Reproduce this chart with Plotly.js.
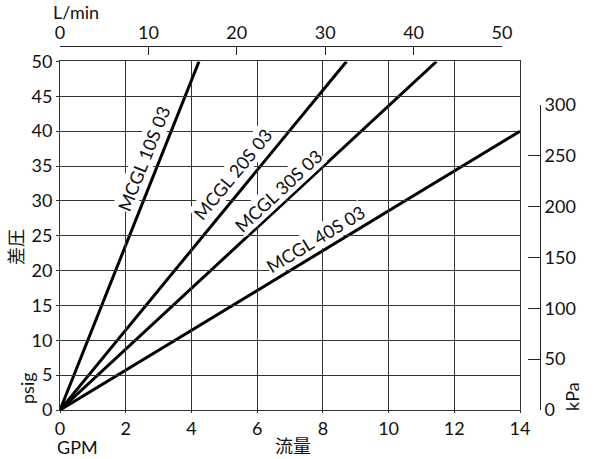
<!DOCTYPE html>
<html><head><meta charset="utf-8">
<script src="https://cdn.plot.ly/plotly-3.0.1.min.js"></script>
<style>html,body{margin:0;padding:0;background:#fff}</style>
</head><body><div id="chart" style="width:600px;height:459px"></div>
<script>
// ---- data ----
const models = ['MCGL 10S 03', 'MCGL 20S 03', 'MCGL 30S 03', 'MCGL 40S 03'];
const flowGPM = [[0, 4.23], [0, 8.72], [0, 11.46], [0, 14]];
const dpPsig = [[0, 50], [0, 50], [0, 50], [0, 40]];
const gpmTicks = [0, 2, 4, 6, 8, 10, 12, 14];
const psigTicks = [0, 5, 10, 15, 20, 25, 30, 35, 40, 45, 50];
const lpmTicks = [0, 10, 20, 30, 40, 50];
const kpaTicks = [0, 50, 100, 150, 200, 250, 300];

// ---- label placement (layout, not data) ----
const labelPos = [[2.62, 35.9], [5.33, 33.6], [6.70, 31.1], [7.82, 24.2]];
const labelGap = 3; // extra px away from the line

const W = 600, H = 459;
const M = {l: 60, r: 40, t: 40, b: 49};
const plotW = W - M.l - M.r, plotH = H - M.t - M.b;
const xDomTop = 0.92, yDomTop = 0.942;
const pxPerX = plotW * xDomTop / 14, pxPerY = plotH * yDomTop / 50;
const px = x => (x - M.l) / plotW;
const py = y => (H - M.b - y) / plotH;

const FONT = "Lato, 'Noto Sans CJK JP', sans-serif";
const traces = models.map((m, i) => ({
  x: flowGPM[i], y: dpPsig[i], type: 'scatter', mode: 'lines',
  line: {color: '#000', width: 3}, name: m, hoverinfo: 'skip', showlegend: false
}));
traces.push({x: [], y: [], xaxis: 'x2', yaxis: 'y', type: 'scatter', mode: 'markers', showlegend: false, hoverinfo: 'skip'});
traces.push({x: [], y: [], xaxis: 'x', yaxis: 'y2', type: 'scatter', mode: 'markers', showlegend: false, hoverinfo: 'skip'});

const tf = {family: FONT, size: 18, color: '#111'};
const annotations = models.map((m, i) => {
  const slope = (dpPsig[i][1] - dpPsig[i][0]) / (flowGPM[i][1] - flowGPM[i][0]);
  const th = Math.atan(slope * pxPerY / pxPerX);
  const ang = th * 180 / Math.PI;
  const ax = labelPos[i][0] - Math.sin(th) * labelGap / pxPerX;
  const ay = labelPos[i][1] + Math.cos(th) * labelGap / pxPerY;
  return {x: ax, y: ay, xref: 'x', yref: 'y', text: m,
    showarrow: false, textangle: -ang, bgcolor: '#fff', borderpad: 0,
    font: {family: FONT, size: 18, color: '#111'}};
});
const titles = [
  ['L/min', 76, 12, 0], ['GPM', 77, 447, 0], ['流量', 293, 446, 0],
  ['差圧', 16, 247, -90], ['psig', 27, 388, -90], ['kPa', 572, 397, -90]
];
titles.forEach(t => annotations.push({x: px(t[1]), y: py(t[2]), xref: 'paper', yref: 'paper',
  text: t[0], showarrow: false, textangle: t[3], xanchor: 'center', yanchor: 'middle', font: tf}));

const layout = {
  width: W, height: H, margin: M, paper_bgcolor: '#fff', plot_bgcolor: 'rgba(0,0,0,0)',
  font: tf, showlegend: false,
  xaxis: {domain: [0, xDomTop], range: [0, 14], tickvals: gpmTicks, showgrid: true, gridcolor: '#333', gridwidth: 1,
    zeroline: false, showline: true, linecolor: '#333', mirror: true, ticks: 'outside', ticklen: 2, tickcolor: '#333', tickfont: tf},
  yaxis: {domain: [0, yDomTop], range: [0, 50], tickvals: psigTicks, showgrid: true, gridcolor: '#333', gridwidth: 1,
    zeroline: false, showline: true, linecolor: '#333', mirror: true, ticks: 'outside', ticklen: 3, tickcolor: '#333', tickfont: tf},
  xaxis2: {domain: [0, 442 / plotW], range: [0, 50], tickvals: lpmTicks, anchor: 'free', position: py(46), side: 'top',
    showgrid: false, zeroline: false, showline: true, linecolor: '#222', ticks: 'inside', ticklen: 8, tickcolor: '#222', tickfont: tf},
  yaxis2: {domain: [0, py(105)], range: [0, 300], tickvals: kpaTicks, anchor: 'free', position: px(540), side: 'right',
    showgrid: false, zeroline: false, showline: true, linecolor: '#222', ticks: 'inside', ticklen: 12, tickcolor: '#222', tickfont: tf},
  annotations: annotations
};
Plotly.newPlot('chart', traces, layout, {displayModeBar: false, staticPlot: true});
</script></body></html>
